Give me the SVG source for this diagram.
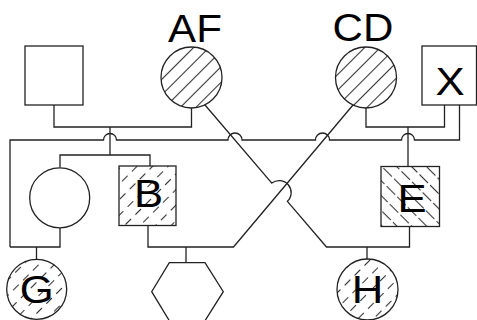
<svg xmlns="http://www.w3.org/2000/svg" width="477" height="320" viewBox="0 0 477 320">
<style>
.ln{fill:none;stroke:#222;stroke-width:1.3}
.shape{stroke:#222;stroke-width:1.3}
.lbl{font-family:"Liberation Sans",Arial,sans-serif;font-size:39px;fill:#000;text-anchor:middle}
</style>
<defs>
<pattern id="hs" patternUnits="userSpaceOnUse" width="11" height="11" patternTransform="rotate(-45)">
<line x1="0" y1="5.5" x2="11" y2="5.5" stroke="#333" stroke-width="1.1"/>
</pattern>
<pattern id="hd" patternUnits="userSpaceOnUse" width="14" height="11" patternTransform="rotate(-45)">
<line x1="0" y1="5.5" x2="8" y2="5.5" stroke="#333" stroke-width="1.1"/>
</pattern>
<pattern id="hb" patternUnits="userSpaceOnUse" width="15" height="10.5" patternTransform="rotate(45)">
<line x1="0" y1="5.25" x2="12" y2="5.25" stroke="#333" stroke-width="1.1"/>
</pattern>
</defs>
<rect width="477" height="320" fill="#fff"/>
<g id="connectors" class="ln">
<path d="M54,105 V127 H191.5 V108"/>
<path d="M110,127 V155"/>
<path d="M60,167.5 V155 H150 V166"/>
<path d="M366,108 V127 H444.5 V105"/>
<path d="M408,127 V166.5"/>
<path d="M10,247 V140 H103.5 A6.5 6.5 0 0 1 116.5 140 H228 A7 7 0 0 1 242 140 H315.5 A7 7 0 0 1 329.5 140 H401.5 A6.5 6.5 0 0 1 414.5 140 H459.5 V105"/>
<path d="M10,247 H60 V228"/>
<path d="M36.5,247 V259"/>
<path d="M148,225.5 V247 H233.5 L353,105"/>
<path d="M186,247 V262.7"/>
<path d="M409.5,226.5 V247 H326.5 L287.4,201.3 A12 12 0 0 0 271.8 183.1 L205,105"/>
<path d="M367,247 V259"/>
</g>
<g id="node-left-square"><rect class="shape" x="25" y="46" width="58" height="59" fill="#fff"/></g>
<g id="node-AF"><circle class="shape" cx="191.5" cy="77.5" r="30.5" fill="url(#hs)"/><text class="lbl" transform="translate(195,42) scale(1.08,1)">AF</text></g>
<g id="node-CD"><circle class="shape" cx="366" cy="77.5" r="30.5" fill="url(#hs)"/><text class="lbl" transform="translate(363,41) scale(1.08,1)">CD</text></g>
<g id="node-X"><rect class="shape" x="422" y="46" width="54.5" height="59" fill="#fff"/><text class="lbl" transform="translate(450,95) scale(1.12,1)">X</text></g>
<g id="node-circle"><circle class="shape" cx="59.7" cy="197.8" r="30" fill="#fff"/></g>
<g id="node-B"><rect class="shape" x="119" y="166" width="57" height="59.5" fill="url(#hd)"/><text class="lbl" transform="translate(148.5,207) scale(1.12,1)">B</text></g>
<g id="node-E"><rect class="shape" x="381" y="166.5" width="58.5" height="60" fill="url(#hb)"/><text class="lbl" transform="translate(412,212) scale(1.12,1)">E</text></g>
<g id="node-G"><circle class="shape" cx="36.7" cy="289.3" r="30" fill="url(#hd)"/><text class="lbl" transform="translate(36.7,303) scale(1.12,1)">G</text></g>
<g id="node-hex"><polygon class="shape" points="169.3,262.7 205,262.7 223.3,291.7 205,320.7 169.3,320.7 151.7,291.7" fill="#fff"/></g>
<g id="node-H"><circle class="shape" cx="367.5" cy="289.5" r="30.5" fill="url(#hd)"/><text class="lbl" transform="translate(367.5,303) scale(1.12,1)">H</text></g>
</svg>
